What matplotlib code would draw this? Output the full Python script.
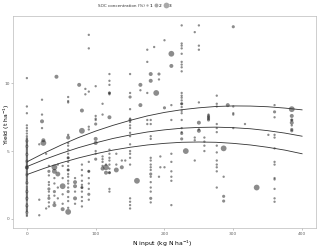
import numpy as np
import matplotlib
matplotlib.use("Agg")
import matplotlib.pyplot as plt
from matplotlib.lines import Line2D

# N input levels (kg N/ha) and observed yields at each level (t/ha)
n_levels = [0, 18, 22, 24, 28, 32, 40, 43, 45, 52, 60, 70, 76, 80, 85, 90,
            100, 110, 115, 120, 130, 138, 143, 150, 160, 165, 175, 180, 185,
            188, 192, 194, 200, 210, 225, 231, 244, 250, 258, 264, 276, 286,
            292, 300, 317, 334, 351, 360, 385]

yield_by_level = [
    [0.2, 0.3, 0.45, 0.55, 0.65, 0.75, 0.85, 0.95, 1.05, 1.15, 1.3, 1.4, 1.5,
     1.6, 1.7, 1.8, 1.9, 2.0, 2.1, 2.2, 2.3, 2.4, 2.55, 2.65, 2.75, 2.85,
     2.95, 3.05, 3.15, 3.25, 3.35, 3.45, 3.55, 3.65, 3.75, 3.8, 3.85, 3.95,
     4.05, 4.15, 4.25, 4.35, 4.45, 4.55, 4.65, 4.75, 4.85, 4.95, 5.05, 5.15,
     5.25, 5.35, 5.45, 5.55, 5.65, 5.75, 5.85, 5.95, 6.1, 6.3, 6.5, 6.7, 6.9,
     7.8, 8.3, 10.4],
    [0.25, 1.4, 5.5],
    [6.7, 7.2, 7.7, 8.8],
    [5.6, 5.8],
    [0.75, 4.8],
    [0.9, 1.2, 1.5, 1.7, 2.0, 2.2, 2.5, 2.7, 3.2, 3.5, 3.9],
    [1.0, 1.2, 1.7, 2.0, 2.6, 3.0, 3.5, 3.8],
    [10.5],
    [1.5, 2.3, 3.3, 4.0],
    [0.7, 1.1, 1.8, 2.4, 3.0, 3.9],
    [0.5, 0.8, 1.3, 1.6, 2.0, 2.3, 2.6, 2.8, 3.1, 3.3, 3.6, 3.6, 3.9, 4.2,
     4.5, 4.5, 4.8, 5.1, 5.4, 5.6, 6.0, 6.2, 8.6, 8.7, 9.0],
    [1.1, 1.5, 2.0, 2.4, 2.7, 3.0],
    [9.9],
    [0.9, 1.3, 1.6, 2.0, 2.3, 2.3, 2.5, 2.8, 3.2, 3.6, 4.0, 6.5, 8.0],
    [9.2, 9.6],
    [1.4, 1.8, 2.2, 2.6, 3.0, 3.5, 3.5, 4.2, 6.6, 6.8, 9.4, 12.6, 13.6],
    [4.4, 4.8, 5.0, 5.6, 5.9, 7.0, 7.3, 7.4, 7.6, 9.8],
    [3.7, 3.9, 4.2, 4.4, 4.6, 7.7, 8.5],
    [3.4, 3.8, 4.0],
    [2.0, 2.2, 3.4, 3.4, 3.7, 4.0, 4.3, 4.5, 4.8, 5.1, 7.5, 9.2, 9.3, 9.3,
     9.9, 10.2, 10.7],
    [3.6, 4.0, 4.8],
    [3.8, 4.3],
    [4.3],
    [0.75, 1.0, 1.25, 1.5, 4.0, 4.5, 4.8, 5.0, 5.5, 6.1, 6.35, 6.7, 6.9,
     7.15, 7.3, 7.4, 8.1, 9.0, 9.3, 10.7],
    [2.8],
    [8.4, 9.5, 9.9],
    [7.0, 7.3, 9.3, 11.6, 12.5],
    [1.2, 1.5, 2.0, 2.3, 2.7, 3.1, 3.3, 3.6, 3.8, 4.0, 4.3, 4.5, 5.9, 6.1,
     7.0, 7.3, 10.2, 10.7],
    [12.7],
    [9.3],
    [3.1, 10.3, 10.7],
    [3.8, 4.6],
    [3.8, 8.2, 13.2],
    [1.0, 2.8, 3.1, 3.5, 4.2, 4.8, 7.3, 8.4, 11.3, 12.2],
    [6.3, 6.4, 6.7, 5.9, 7.3, 7.8, 7.98, 8.26, 8.5, 8.5, 8.75, 8.95, 9.1,
     9.3, 10.9, 11.2, 11.4, 11.6, 12.2, 12.6, 12.8, 12.96, 14.3],
    [5.0],
    [4.3, 5.8, 6.0, 13.8],
    [6.5, 6.6, 7.1, 8.6, 12.5, 12.8, 14.3],
    [5.0, 5.4, 5.7, 6.0],
    [7.3, 7.4, 7.5, 7.6, 7.7],
    [2.3, 3.5, 3.8, 4.0, 4.3, 4.9, 5.4, 6.4, 6.7, 7.0, 8.3, 8.5, 9.1],
    [1.3, 1.65, 3.1, 5.2],
    [8.4],
    [6.7, 7.7, 7.8, 8.3, 14.2],
    [7.0],
    [2.3],
    [6.2],
    [1.25, 1.5, 2.2, 2.9, 3.0, 4.0, 4.2, 5.2, 6.0, 6.2, 7.5, 7.9, 8.4],
    [6.5, 6.6, 6.9, 7.1, 7.3, 7.3, 7.6, 8.1],
]

# SOC concentration (%) of each observation, same layout as yield_by_level
soc_by_level = [
    [1, 1, 1.5, 1, 1, 1, 1, 1.5, 1, 1, 1, 1, 1.5, 1, 1, 1, 1, 1.5, 1, 1, 1,
     1, 1, 1.5, 1, 1, 1, 1, 1, 1.5, 1, 1, 1, 1, 1.5, 2, 1, 1, 1, 1, 1.5, 1,
     1, 1, 1, 1.5, 1, 1, 1, 1, 1, 1.5, 1, 1, 1, 1.5, 1, 1, 1, 1, 1, 1, 1,
     1, 1, 1],
    [1, 1, 1],
    [1, 2, 1, 1],
    [3, 2],
    [1, 1],
    [1, 1, 1.5, 1, 1, 1.5, 1, 1, 1, 1.5, 1],
    [2, 1, 1, 1.5, 1, 1, 2.5, 3],
    [2],
    [1, 1, 2.5, 1],
    [2, 1, 1, 3, 1, 1],
    [3, 1, 1, 1, 1.5, 1, 1, 1, 1, 1, 1.5, 1, 1, 1, 1.5, 1, 1, 1, 1, 1, 2,
     1, 1, 1, 1],
    [1, 2, 1, 2, 2, 1],
    [2],
    [1, 1, 1, 1, 1.5, 1, 1, 1, 1, 1, 1, 3, 2],
    [1, 1],
    [1, 1.5, 1, 1, 1, 1.5, 1, 1, 1, 1, 1, 1, 1],
    [1.5, 1, 1, 2, 2, 1.5, 1, 1, 1, 1],
    [2, 1, 1, 1, 1, 1, 1],
    [2, 3, 1],
    [1, 1, 1.5, 1, 1, 1, 1, 1, 1, 1, 2, 1, 1.5, 1, 1, 1, 1],
    [2.5, 1, 1],
    [2, 1],
    [1],
    [1, 1, 1, 1, 1, 1, 1, 1, 1, 1, 1, 1, 1, 1, 1.5, 1, 1, 1.5, 1, 1],
    [3],
    [2, 1, 2],
    [1, 1, 1, 1, 1],
    [1, 1.5, 1, 1, 1, 1, 1.5, 1, 1, 1, 1, 1, 1, 1, 1, 1, 2, 2],
    [1],
    [3],
    [1, 1, 1.5],
    [1, 1],
    [1, 1.5, 1],
    [1, 1, 1, 1, 1, 1, 1, 1, 2, 3],
    [1.5, 1, 1, 1.5, 1, 1, 1, 1, 1.5, 1, 1, 1, 1, 1, 1, 1, 1, 1, 1, 1, 1,
     1, 1],
    [3],
    [1, 1, 1, 1],
    [2, 1, 2, 1, 1, 1, 1],
    [1, 1, 1, 1],
    [1.5, 1.5, 1.5, 1.5, 1],
    [1, 1, 1, 1, 1, 1, 1, 1, 1, 1, 1, 1, 1],
    [1.5, 1.5, 1, 3],
    [2],
    [1, 1, 1, 1, 1.5],
    [1],
    [3],
    [1],
    [1, 1, 1, 1, 1, 1, 1, 1, 1, 1, 1, 1.5, 1],
    [1.5, 1.5, 1, 2, 1.5, 1, 2, 3],
]

# fitted response curves
n_curve = [0, 25, 50, 75, 100, 125, 150, 175, 200, 225, 250, 275, 300, 325,
           350, 375, 400]
yield_curve_high = [4.2, 4.85, 5.45, 6.0, 6.48, 6.9, 7.27, 7.6, 7.86, 8.06,
                    8.2, 8.3, 8.34, 8.33, 8.28, 8.18, 8.05]
yield_curve_mid = [3.85, 4.37, 4.83, 5.25, 5.61, 5.93, 6.19, 6.41, 6.57,
                   6.69, 6.75, 6.77, 6.73, 6.65, 6.51, 6.33, 6.1]
yield_curve_low = [3.26, 3.72, 4.13, 4.49, 4.8, 5.07, 5.28, 5.45, 5.57,
                   5.65, 5.67, 5.65, 5.57, 5.45, 5.28, 5.07, 4.8]

legend_soc = [1, 2, 3]


def soc_size(s):
    return 1.0 + 1.8 * np.asarray(s) ** 2


x, y, soc = [], [], []
for n, ys, ss in zip(n_levels, yield_by_level, soc_by_level):
    for yy, sc in zip(ys, ss):
        x.append(n)
        y.append(yy)
        soc.append(sc)

fig = plt.figure(figsize=(3.2, 2.49), dpi=100)
ax = fig.add_axes([0.041, 0.084, 0.946, 0.852])

pt_color = "#1a1a1a"
ax.scatter(x, y, s=soc_size(soc), c=pt_color, alpha=0.5, linewidths=0)

for curve in (yield_curve_high, yield_curve_mid, yield_curve_low):
    ax.plot(n_curve, curve, color="#333333", lw=0.6)

ax.set_xlim(-20, 420)
ax.set_ylim(-0.7, 15.0)
ax.set_xticks([0, 100, 200, 300, 400])
ax.set_yticks([0, 5, 10])
ax.tick_params(labelsize=3.2, labelcolor="#666666", color="#999999",
               length=1.5, width=0.4, pad=1)
for sp in ax.spines.values():
    sp.set_color("#bbbbbb")
    sp.set_linewidth(0.5)

# axis titles placed by hand so they fit the small canvas
fig.text(0.506, 0.002, r"N input (kg N ha$^{-1}$)", fontsize=4.4,
         ha="center", va="bottom")
fig.text(0.004, 0.5, r"Yield (t ha$^{-1}$)", fontsize=4.4, rotation=90,
         ha="left", va="center")

# legend along the top
fig.text(0.305, 0.976, "SOC concentration (%)", fontsize=3, ha="left",
         va="center", color="#333333")
handles = [Line2D([], [], ls="none", marker="o", color="#555555", alpha=0.5,
                  markeredgewidth=0, markersize=np.sqrt(soc_size(s)))
           for s in legend_soc]
fig.legend(handles, [str(s) for s in legend_soc], loc="center left",
           bbox_to_anchor=(0.452, 0.976), ncol=3, frameon=False,
           fontsize=3.2, handletextpad=0.1, columnspacing=0.4,
           handlelength=1.0, borderpad=0, borderaxespad=0)

fig.savefig("out.png", dpi=100)
